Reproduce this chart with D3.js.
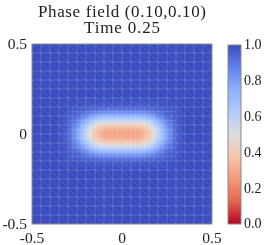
<!DOCTYPE html>
<html lang="en">
<head>
  <meta charset="UTF-8" />
  <title>Phase field</title>
  <script src="https://d3js.org/d3.v7.min.js"></script>
  <style>
    body { margin: 0; background: #fff; }
    #wrap { position: relative; width: 266px; height: 245px; }
    canvas, svg { position: absolute; left: 0; top: 0; }
    text { font-family: "Liberation Serif", "DejaVu Serif", serif; fill: #222; }
  </style>
</head>
<body>
  <div id="wrap">
    <canvas id="field" width="266" height="245"></canvas>
    <svg width="266" height="245"></svg>
  </div>
  <script>
    // sampled phase values near the blob (rows = y, columns = x)
    const sampleX = [-0.3, -0.25, -0.2, -0.15, -0.1, -0.05, 0, 0.05, 0.1, 0.15, 0.2, 0.25, 0.3];
    const sampleY = [-0.15, -0.125, -0.1, -0.075, -0.05, -0.025, 0, 0.025, 0.05, 0.075, 0.1, 0.125, 0.15];
    const rowA = [0.99, 0.98, 0.97, 0.96, 0.96, 0.96, 0.96, 0.96, 0.96, 0.96, 0.97, 0.98, 0.99]; // |y|=0.15
    const rowB = [0.98, 0.96, 0.93, 0.89, 0.87, 0.87, 0.87, 0.87, 0.87, 0.89, 0.93, 0.96, 0.98]; // |y|=0.125
    const rowC = [0.97, 0.94, 0.86, 0.77, 0.73, 0.73, 0.73, 0.73, 0.73, 0.77, 0.86, 0.94, 0.97]; // |y|=0.1
    const rowD = [0.96, 0.89, 0.76, 0.63, 0.58, 0.58, 0.58, 0.58, 0.58, 0.63, 0.76, 0.89, 0.96]; // |y|=0.075
    const rowE = [0.96, 0.85, 0.67, 0.50, 0.42, 0.41, 0.41, 0.41, 0.42, 0.50, 0.67, 0.85, 0.96]; // |y|=0.05
    const rowF = [0.95, 0.81, 0.60, 0.40, 0.31, 0.30, 0.30, 0.30, 0.31, 0.40, 0.60, 0.81, 0.95]; // |y|=0.025
    const rowG = [0.95, 0.80, 0.58, 0.37, 0.28, 0.27, 0.27, 0.27, 0.28, 0.37, 0.58, 0.80, 0.95]; // y=0
    const phase = [rowA, rowB, rowC, rowD, rowE, rowF, rowG, rowF, rowE, rowD, rowC, rowB, rowA];
    const background = 1.0;

    const axisTicks = [-0.5, 0, 0.5];
    const axisLabels = ["-0.5", "0", "0.5"];
    const barTicks = [0, 0.2, 0.4, 0.6, 0.8, 1.0];
    const titleLines = ["Phase field (0.10,0.10)", "Time 0.25"];
    const titleWidths = [168, 76];
    const meshCells = 20;
    const refinedBox = [-0.3, 0.3, -0.15, 0.15];

    // coolwarm, reversed so 0 is red and 1 is blue
    const cwStops = [0, 0.125, 0.25, 0.375, 0.5, 0.625, 0.75, 0.875, 1];
    const cwColors = ["#b40426", "#e0654f", "#f4997a", "#f5c4ac", "#dddddd", "#b2ccfb", "#8db0fe", "#6282ea", "#3b4cc0"];
    const color = d3.scaleLinear().domain(cwStops).range(cwColors).interpolate(d3.interpolateRgb).clamp(true);

    const x = d3.scaleLinear().domain([-0.5, 0.5]).range([32, 212]);
    const y = d3.scaleLinear().domain([-0.5, 0.5]).range([224, 44]);

    const sx = d3.scaleLinear().domain(sampleX).range(d3.range(sampleX.length));
    const sy = d3.scaleLinear().domain(sampleY).range(d3.range(sampleY.length));

    function valueAt(px, py) {
      const last = sampleX.length - 1;
      if (px < sampleX[0] || px > sampleX[last] || py < sampleY[0] || py > sampleY[sampleY.length - 1]) {
        // fade from table edge to background
        const dx = Math.max(sampleX[0] - px, px - sampleX[last], 0);
        const dy = Math.max(sampleY[0] - py, py - sampleY[sampleY.length - 1], 0);
        const cx = Math.max(sampleX[0], Math.min(sampleX[last], px));
        const cy = Math.max(sampleY[0], Math.min(sampleY[sampleY.length - 1], py));
        const edge = valueAt(cx, cy);
        const t = Math.min(1, Math.hypot(dx, dy) / 0.05);
        return edge + (background - edge) * t;
      }
      const fi = sx(px), fj = sy(py);
      const i = Math.min(Math.floor(fi), sampleX.length - 2), j = Math.min(Math.floor(fj), sampleY.length - 2);
      const tx = fi - i, ty = fj - j;
      return phase[j][i] * (1 - tx) * (1 - ty) + phase[j][i + 1] * tx * (1 - ty) +
        phase[j + 1][i] * (1 - tx) * ty + phase[j + 1][i + 1] * tx * ty;
    }

    // field raster
    const ctx = document.getElementById("field").getContext("2d");
    const [x0, x1] = x.range(), [y1, y0] = y.range();
    const img = ctx.createImageData(x1 - x0, y1 - y0);
    for (let r = 0; r < y1 - y0; r++) {
      for (let c = 0; c < x1 - x0; c++) {
        const v = valueAt(x.invert(x0 + c + 0.5), y.invert(y0 + r + 0.5));
        const col = d3.rgb(color(v));
        const k = (r * (x1 - x0) + c) * 4;
        img.data[k] = col.r; img.data[k + 1] = col.g; img.data[k + 2] = col.b; img.data[k + 3] = 255;
      }
    }
    ctx.putImageData(img, x0, y0);

    const svg = d3.select("svg");

    // mesh
    const mesh = svg.append("g").attr("stroke", "#fff").attr("stroke-width", 0.6).attr("fill", "none");
    const h = 1 / meshCells;
    const cells = [];
    for (let i = 0; i < meshCells; i++) {
      for (let j = 0; j < meshCells; j++) {
        const cx = -0.5 + i * h, cy = -0.5 + j * h;
        const inBox = cx >= refinedBox[0] - 1e-9 && cx + h <= refinedBox[1] + 1e-9 && cy >= refinedBox[2] - 1e-9 && cy + h <= refinedBox[3] + 1e-9;
        if (inBox) {
          for (let a = 0; a < 2; a++) for (let b = 0; b < 2; b++) cells.push([cx + a * h / 2, cy + b * h / 2, h / 2, (a + b) % 2, 0.1]);
        } else {
          cells.push([cx, cy, h, 0, 0.16]);
        }
      }
    }
    mesh.selectAll("path").data(cells).join("path")
      .attr("stroke-opacity", d => d[4])
      .attr("d", d => {
        const [cx, cy, s, flip] = d;
        const diag = flip
          ? `M${x(cx)},${y(cy)}L${x(cx + s)},${y(cy + s)}`
          : `M${x(cx)},${y(cy + s)}L${x(cx + s)},${y(cy)}`;
        return `M${x(cx)},${y(cy)}H${x(cx + s)}V${y(cy + s)}H${x(cx)}Z ` + diag;
      });

    // frame
    svg.append("rect")
      .attr("x", x0).attr("y", y0).attr("width", x1 - x0).attr("height", y1 - y0)
      .attr("fill", "none").attr("stroke", "#8a8a8a").attr("stroke-width", 1);

    // axes labels
    svg.append("g").selectAll("text").data(axisTicks).join("text")
      .attr("x", d => x(d)).attr("y", 243).attr("text-anchor", "middle")
      .attr("font-size", 15.5).text((d, i) => axisLabels[i]);
    svg.append("g").selectAll("text").data(axisTicks).join("text")
      .attr("x", 27).attr("y", d => y(d)).attr("dy", "0.32em").attr("text-anchor", "end")
      .attr("font-size", 15.5).text((d, i) => axisLabels[i]);

    // title
    svg.append("g").selectAll("text").data(titleLines).join("text")
      .attr("x", 122).attr("y", (d, i) => 17 + i * 16).attr("text-anchor", "middle")
      .attr("font-size", 17).attr("textLength", (d, i) => titleWidths[i]).attr("lengthAdjust", "spacing")
      .text(d => d);

    // colorbar
    const cb = d3.scaleLinear().domain([0, 1]).range([224, 45]);
    const grad = svg.append("defs").append("linearGradient").attr("id", "cbar")
      .attr("x1", 0).attr("y1", 1).attr("x2", 0).attr("y2", 0);
    grad.selectAll("stop").data(cwStops).join("stop")
      .attr("offset", d => d).attr("stop-color", d => color(d));
    svg.append("rect").attr("x", 228).attr("y", cb(1)).attr("width", 13).attr("height", cb(0) - cb(1))
      .attr("fill", "url(#cbar)").attr("stroke", "#8a8a8a").attr("stroke-width", 1);
    svg.append("g").selectAll("text").data(barTicks).join("text")
      .attr("x", 244).attr("y", d => cb(d)).attr("dy", "0.32em")
      .attr("font-size", 14).text(d => d.toFixed(1));
  </script>
</body>
</html>
